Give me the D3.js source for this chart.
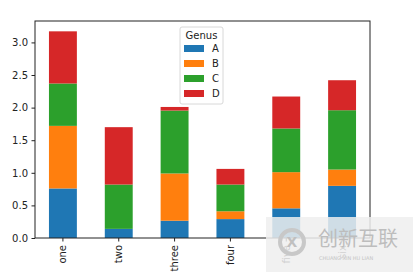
<!DOCTYPE html>
<html>
<head>
<meta charset="utf-8">
<script src="https://cdn.jsdelivr.net/npm/d3@7"></script>
<style>
  body { margin: 0; background: #fff; }
  text { font-family: "DejaVu Sans", sans-serif; }
</style>
</head>
<body>
<div id="chart"></div>
<script>
  let width = 413, height = 272
  let margin = {top: 21, right: 43, bottom: 34, left: 35}

  let categories = ["one", "two", "three", "four", "five", "six"]
  let genus = ["A", "B", "C", "D"]
  let valuesA = [0.76, 0.14, 0.265, 0.29, 0.455, 0.80]
  let valuesB = [0.96, 0.00, 0.725, 0.12, 0.555, 0.25]
  let valuesC = [0.65, 0.68, 0.965, 0.41, 0.67, 0.91]
  let valuesD = [0.80, 0.88, 0.055, 0.24, 0.49, 0.46]
  let yTicks = [0.0, 0.5, 1.0, 1.5, 2.0, 2.5, 3.0]
  let colors = ["#1f77b4", "#ff7f0e", "#2ca02c", "#d62728"]

  let rows = categories.map(function(c, i){
    return {cat: c, A: valuesA[i], B: valuesB[i], C: valuesC[i], D: valuesD[i]}
  })
  let stacked = d3.stack().keys(genus)(rows)
  let maxTotal = d3.max(rows, function(d){ return d.A + d.B + d.C + d.D })

  let svg = d3.select("#chart").append("svg")
    .attr("width", width)
    .attr("height", height)

  let x = d3.scaleBand()
    .domain(categories)
    .range([margin.left, width - margin.right])
    .paddingInner(0.5)
    .paddingOuter(0.25)

  let y = d3.scaleLinear()
    .domain([0, maxTotal * 1.05])
    .range([height - margin.bottom, margin.top])

  let color = d3.scaleOrdinal().domain(genus).range(colors)

  svg.append("g")
    .selectAll("g")
    .data(stacked)
    .enter().append("g")
      .attr("fill", function(d){ return color(d.key) })
    .selectAll("rect")
    .data(function(d){ return d })
    .enter().append("rect")
      .attr("x", function(d){ return x(d.data.cat) })
      .attr("width", x.bandwidth())
      .attr("y", function(d){ return y(d[1]) })
      .attr("height", function(d){ return y(d[0]) - y(d[1]) })

  // axes frame
  svg.append("rect")
    .attr("x", margin.left)
    .attr("y", margin.top)
    .attr("width", width - margin.left - margin.right)
    .attr("height", height - margin.top - margin.bottom)
    .attr("fill", "none")
    .attr("stroke", "#222")
    .attr("stroke-width", 1)

  let yAxis = svg.append("g")
    .attr("transform", "translate(" + margin.left + ",0)")
    .call(d3.axisLeft(y).tickValues(yTicks).tickFormat(d3.format(".1f")).tickSize(3.5).tickPadding(3.5))
  yAxis.select(".domain").remove()
  yAxis.selectAll("text").style("font-size", "10px").attr("fill", "#222")
  yAxis.selectAll("line").attr("stroke", "#222")

  let xAxis = svg.append("g")
    .attr("transform", "translate(0," + (height - margin.bottom) + ")")
    .call(d3.axisBottom(x).tickSize(3.5).tickPadding(3.5))
  xAxis.select(".domain").remove()
  xAxis.selectAll("line").attr("stroke", "#222")
  xAxis.selectAll("text")
    .style("font-size", "10px")
    .attr("fill", "#222")
    .attr("transform", "rotate(-90)")
    .attr("x", -7)
    .attr("y", 0)
    .attr("dy", "0.35em")
    .attr("text-anchor", "end")

  // legend
  let legend = svg.append("g").attr("transform", "translate(180,27)")
  legend.append("rect")
    .attr("width", 43)
    .attr("height", 77)
    .attr("rx", 2)
    .attr("fill", "#fff")
    .attr("fill-opacity", 0.8)
    .attr("stroke", "#d8d8d8")
  legend.append("text")
    .attr("x", 21.5)
    .attr("y", 12)
    .attr("text-anchor", "middle")
    .style("font-size", "10px")
    .attr("fill", "#222")
    .text("Genus")
  let item = legend.selectAll(".item")
    .data(genus)
    .enter().append("g")
      .attr("class", "item")
      .attr("transform", function(d, i){ return "translate(4," + (18 + i * 15) + ")" })
  item.append("rect")
    .attr("width", 20)
    .attr("height", 7)
    .attr("fill", function(d){ return color(d) })
  item.append("text")
    .attr("x", 28)
    .attr("y", 3.5)
    .attr("dy", "0.35em")
    .style("font-size", "10px")
    .attr("fill", "#222")
    .text(function(d){ return d })

  // watermark overlay
  let wm = svg.append("g")
  wm.append("rect")
    .attr("x", 266).attr("y", 217)
    .attr("width", 147).attr("height", 55)
    .attr("fill", "#eeeeee").attr("fill-opacity", 0.85)
  wm.append("circle")
    .attr("cx", 292).attr("cy", 242).attr("r", 12)
    .attr("fill", "none").attr("stroke", "#c8c8c8").attr("stroke-width", 4)
  wm.append("text")
    .attr("x", 292).attr("y", 242).attr("dy", "0.35em")
    .attr("text-anchor", "middle")
    .style("font-size", "14px").style("font-weight", "bold")
    .attr("fill", "#c0c0c0")
    .text("X")
  wm.append("text")
    .attr("x", 318).attr("y", 246)
    .style("font-family", "'Noto Sans CJK SC'")
    .style("font-size", "20px")
    .attr("fill", "#bdbdbd")
    .text("创新互联")
  wm.append("text")
    .attr("x", 319).attr("y", 260)
    .style("font-size", "5px")
    .attr("fill", "#c4c4c4")
    .text("CHUANG XIN HU LIAN")
</script>
</body>
</html>
